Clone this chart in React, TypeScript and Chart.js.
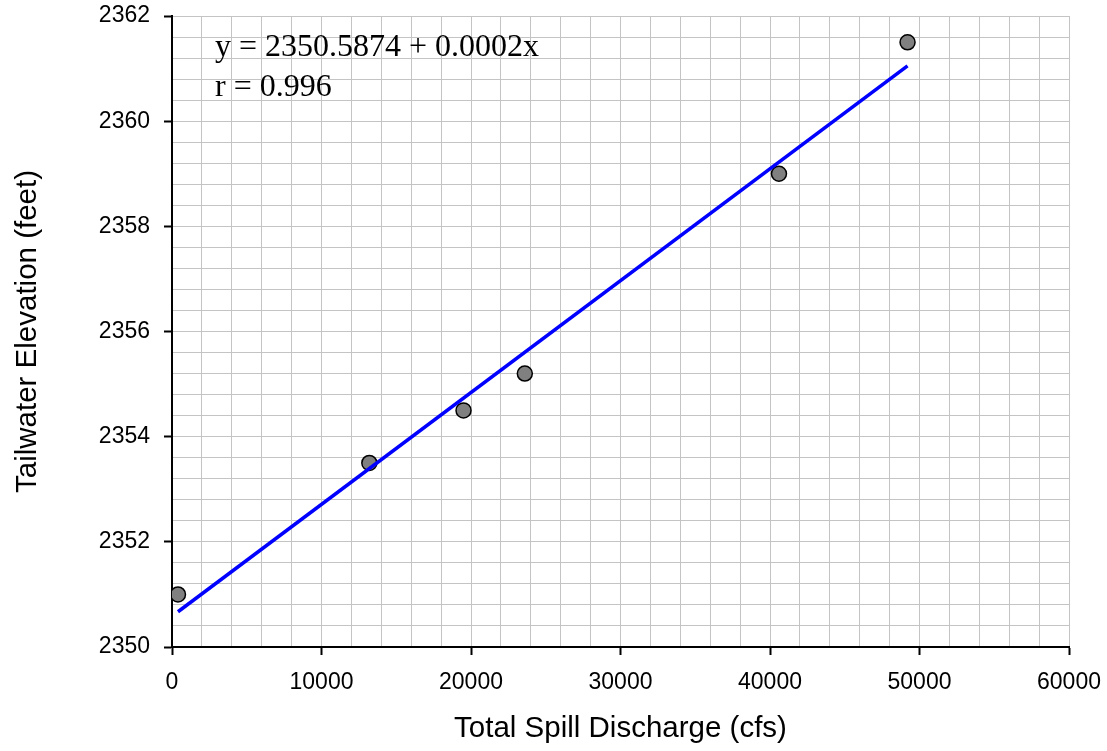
import React, { useEffect, useRef } from "react";
import { Chart, registerables } from "chart.js";

Chart.register(...registerables);

// Observed data: total spill discharge (cfs) vs tailwater elevation (feet)
const discharge = [400, 13200, 19500, 23600, 40600, 49200];
const elevation = [2351.0, 2353.5, 2354.5, 2355.2, 2359.0, 2361.5];

// Fitted line endpoints (as drawn in the reference)
const fitX = [400, 49200];
const fitY = [2350.67, 2361.05];

const equationText = "y = 2350.5874 + 0.0002x";
const rText = "r = 0.996";
const xTitle = "Total Spill Discharge (cfs)";
const yTitle = "Tailwater Elevation (feet)";

const X_MIN = 0, X_MAX = 60000, X_MINOR = 2000, X_MAJOR = 10000;
const Y_MIN = 2350, Y_MAX = 2362, Y_MINOR = 0.4, Y_MAJOR = 2;

const isMajor = (v: number, step: number) =>
  Math.abs(v / step - Math.round(v / step)) < 1e-6;

const tickValues = (min: number, max: number, step: number) => {
  const n = Math.round((max - min) / step);
  const out: { value: number }[] = [];
  for (let i = 0; i <= n; i++) out.push({ value: min + i * step });
  return out;
};

const annotationPlugin = {
  id: "annot",
  afterDraw(chart: any) {
    const ctx = chart.ctx;
    ctx.save();
    ctx.fillStyle = "#000";
    ctx.font = '32px "Liberation Serif", "Times New Roman", serif';
    ctx.textBaseline = "alphabetic";
    ctx.textAlign = "left";
    ctx.fillText(equationText, 215, 56);
    ctx.fillText(rText, 215, 96);
    ctx.restore();
  },
};

export default function App() {
  const ref = useRef<HTMLCanvasElement | null>(null);
  useEffect(() => {
    if (!ref.current) return;
    const tickFont = { family: '"Liberation Sans", Arial, sans-serif', size: 23 };
    const titleFont = { family: '"Liberation Sans", Arial, sans-serif', size: 29.5 };
    const chart = new Chart(ref.current, {
      type: "scatter",
      data: {
        datasets: [
          {
            label: "fit",
            data: fitX.map((x, i) => ({ x, y: fitY[i] })),
            showLine: true,
            borderColor: "#0000FF",
            borderWidth: 3.5,
            pointRadius: 0,
            order: 0,
          },
          {
            label: "observed",
            data: discharge.map((x, i) => ({ x, y: elevation[i] })),
            showLine: false,
            pointRadius: 7.5,
            pointBackgroundColor: "#808080",
            pointBorderColor: "#000000",
            pointBorderWidth: 1.5,
            order: 1,
          },
        ],
      },
      options: {
        responsive: false,
        animation: false,
        devicePixelRatio: 1,
        layout: { padding: { top: 16, right: 38, left: 0, bottom: 0 } },
        plugins: { legend: { display: false }, tooltip: { enabled: false } },
        scales: {
          x: {
            type: "linear",
            min: X_MIN,
            max: X_MAX,
            afterBuildTicks: (s: any) => { s.ticks = tickValues(X_MIN, X_MAX, X_MINOR); },
            afterFit: (s: any) => {
              s.height = 104;
              s.paddingLeft = 0;
              s.paddingRight = 0;
            },
            border: { display: true, color: "#000", width: 2 },
            grid: {
              color: "#c4c4c4",
              lineWidth: 1,
              drawTicks: true,
              tickLength: 8,
              tickWidth: 2,
              tickColor: (c: any) => (c.tick && isMajor(c.tick.value, X_MAJOR) ? "#000" : "rgba(0,0,0,0)"),
            },
            ticks: {
              autoSkip: false,
              maxRotation: 0,
              padding: 14,
              color: "#000",
              font: tickFont,
              callback: (v: any) => (isMajor(Number(v), X_MAJOR) ? String(Math.round(Number(v))) : ""),
            },
            title: {
              display: true,
              text: xTitle,
              color: "#000",
              font: titleFont,
              padding: { top: 0, bottom: 4 },
            },
          },
          y: {
            type: "linear",
            min: Y_MIN,
            max: Y_MAX,
            afterBuildTicks: (s: any) => { s.ticks = tickValues(Y_MIN, Y_MAX, Y_MINOR); },
            afterFit: (s: any) => {
              s.width = 172;
              s.paddingTop = 0;
              s.paddingBottom = 0;
            },
            border: { display: true, color: "#000", width: 2 },
            grid: {
              color: "#c4c4c4",
              lineWidth: 1,
              drawTicks: true,
              tickLength: 8,
              tickWidth: 2,
              tickColor: (c: any) => (c.tick && isMajor(c.tick.value - Y_MIN, Y_MAJOR) ? "#000" : "rgba(0,0,0,0)"),
            },
            ticks: {
              autoSkip: false,
              padding: 14,
              color: "#000",
              font: tickFont,
              callback: (v: any) => (isMajor(Number(v) - Y_MIN, Y_MAJOR) ? String(Math.round(Number(v))) : ""),
            },
            title: {
              display: true,
              text: yTitle,
              color: "#000",
              font: titleFont,
              padding: { top: 10, bottom: 0 },
            },
          },
        },
      },
      plugins: [annotationPlugin],
    } as any);
    return () => chart.destroy();
  }, []);
  return (
    <div style={{ position: "absolute", left: 0, top: 0, width: 1107, height: 751, background: "#fff" }}>
      <canvas ref={ref} width={1107} height={751} />
    </div>
  );
}
